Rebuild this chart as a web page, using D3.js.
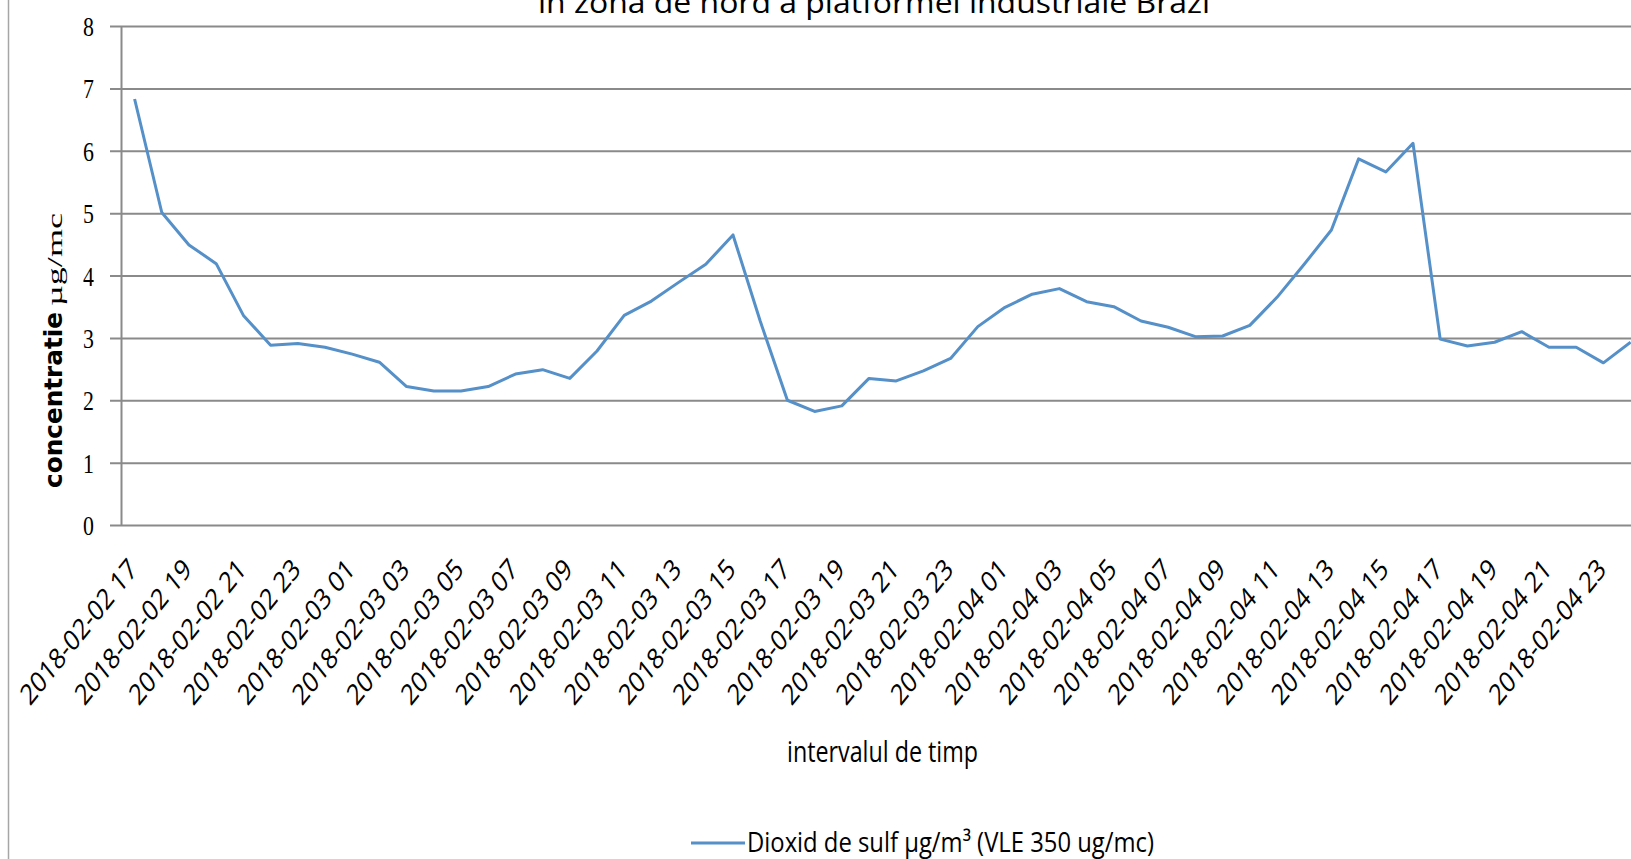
<!DOCTYPE html>
<html>
<head>
<meta charset="utf-8">
<script src="https://cdn.jsdelivr.net/npm/d3@7"></script>
<style>
  body { margin: 0; background: #fff; }
  svg { display: block; }
</style>
</head>
<body>
<div id="chart"></div>
<script>
// hourly categories shown on the x axis
const categories = [
  "2018-02-02 17", "2018-02-02 18", "2018-02-02 19", "2018-02-02 20", "2018-02-02 21", "2018-02-02 22", "2018-02-02 23",
  "2018-02-03 00", "2018-02-03 01", "2018-02-03 02", "2018-02-03 03", "2018-02-03 04", "2018-02-03 05", "2018-02-03 06",
  "2018-02-03 07", "2018-02-03 08", "2018-02-03 09", "2018-02-03 10", "2018-02-03 11", "2018-02-03 12", "2018-02-03 13",
  "2018-02-03 14", "2018-02-03 15", "2018-02-03 16", "2018-02-03 17", "2018-02-03 18", "2018-02-03 19", "2018-02-03 20",
  "2018-02-03 21", "2018-02-03 22", "2018-02-03 23", "2018-02-04 00", "2018-02-04 01", "2018-02-04 02", "2018-02-04 03",
  "2018-02-04 04", "2018-02-04 05", "2018-02-04 06", "2018-02-04 07", "2018-02-04 08", "2018-02-04 09", "2018-02-04 10",
  "2018-02-04 11", "2018-02-04 12", "2018-02-04 13", "2018-02-04 14", "2018-02-04 15", "2018-02-04 16", "2018-02-04 17",
  "2018-02-04 18", "2018-02-04 19", "2018-02-04 20", "2018-02-04 21", "2018-02-04 22", "2018-02-04 23", "2018-02-05 00"
];

// dioxid de sulf, ug/m3
const so2 = [
  6.83, 5.01, 4.49, 4.19, 3.36, 2.88, 2.91,
  2.85, 2.74, 2.61, 2.22, 2.15, 2.15, 2.22,
  2.42, 2.49, 2.35, 2.79, 3.36, 3.59, 3.89,
  4.18, 4.65, 3.27, 2.00, 1.82, 1.91, 2.35,
  2.31, 2.47, 2.67, 3.18, 3.49, 3.70, 3.79,
  3.58, 3.50, 3.27, 3.17, 3.02, 3.03, 3.20,
  3.65, 4.18, 4.73, 5.87, 5.66, 6.12, 2.98,
  2.87, 2.93, 3.10, 2.85, 2.85, 2.60, 2.93
];

const yTicks = [0, 1, 2, 3, 4, 5, 6, 7, 8];
const xTickLabels = categories.filter((d, i) => i % 2 === 0);

const titleText = "în zona de nord a platformei industriale Brazi";
const xTitle = "intervalul de timp";
const yTitleBold = "concentratie";
const yTitleUnit = "µg/mc";
const legendText = "Dioxid de sulf µg/m³ (VLE 350 ug/mc)";

const W = 1631, H = 859;
const plotLeft = 121, plotTop = 26, plotBottom = 525;
const band = 27.2;
const squish = 0.8; // the original picture is narrowed horizontally
const gridColor = "#8a8a8a";
const lineColor = "#5590c8";

const svg = d3.select("#chart").append("svg")
  .attr("width", W)
  .attr("height", H);

svg.append("rect").attr("width", W).attr("height", H).attr("fill", "#fff");

// chart border (only the left edge is inside the picture)
svg.append("line")
  .attr("x1", 8.5).attr("x2", 8.5).attr("y1", 0).attr("y2", H)
  .attr("stroke", "#a6a6a6").attr("stroke-width", 1.5);

var x = d3.scaleBand()
  .domain(categories)
  .range([plotLeft, plotLeft + categories.length * band]);
var xc = function(d) { return x(d) + x.bandwidth() / 2; };

var y = d3.scaleLinear().domain([0, 8]).range([plotBottom, plotTop]);

// y axis + gridlines
var yAxis = svg.append("g")
  .attr("transform", "translate(" + plotLeft + ",0)")
  .call(d3.axisLeft(y).tickValues(yTicks).tickSize(-(W - plotLeft)).tickSizeOuter(0));

yAxis.select(".domain").attr("stroke", gridColor).attr("stroke-width", 2);
yAxis.selectAll(".tick line")
  .attr("x1", -11)
  .attr("stroke", gridColor)
  .attr("stroke-width", 2);
yAxis.selectAll(".tick text")
  .attr("x", 0)
  .attr("dy", "0.34em")
  .attr("transform", "translate(-27,0) scale(0.78,1)")
  .style("font-family", "'Liberation Serif', serif")
  .style("font-size", "28px")
  .attr("fill", "#000");

// x axis labels
var xAxis = svg.append("g")
  .attr("transform", "translate(0," + plotBottom + ")")
  .call(d3.axisBottom(x).tickValues(xTickLabels).tickSize(0).tickSizeOuter(0));

xAxis.select(".domain").remove();
xAxis.selectAll(".tick text")
  .attr("x", 0)
  .attr("y", 0)
  .attr("dy", 0)
  .attr("text-anchor", "end")
  .attr("transform", "translate(4,46) scale(" + squish + ",1) rotate(-45)")
  .style("font-family", "'Open Sans', sans-serif")
  .style("font-size", "29px")
  .attr("fill", "#000");

// data line
var line = d3.line()
  .x(function(d, i) { return xc(categories[i]); })
  .y(function(d) { return y(d); });

svg.append("path")
  .datum(so2)
  .attr("d", line)
  .attr("fill", "none")
  .attr("stroke", lineColor)
  .attr("stroke-width", 3)
  .attr("stroke-linejoin", "round");

// title (top part is cut off in the original)
svg.append("text")
  .attr("x", 538).attr("y", 13)
  .attr("textLength", 672).attr("lengthAdjust", "spacingAndGlyphs")
  .style("font-family", "'Open Sans', sans-serif")
  .style("font-size", "30px")
  .attr("fill", "#000")
  .text(titleText);

// axis titles
svg.append("text")
  .attr("x", 787).attr("y", 762)
  .attr("textLength", 191).attr("lengthAdjust", "spacingAndGlyphs")
  .style("font-family", "'Open Sans', sans-serif")
  .style("font-size", "29px")
  .attr("fill", "#000")
  .text(xTitle);

svg.append("text")
  .attr("transform", "translate(62,488) rotate(-90)")
  .attr("textLength", 176).attr("lengthAdjust", "spacingAndGlyphs")
  .style("font-family", "'DejaVu Sans', sans-serif")
  .style("font-weight", "bold")
  .style("font-size", "24px")
  .attr("fill", "#000")
  .text(yTitleBold);

svg.append("text")
  .attr("transform", "translate(62,306) rotate(-90)")
  .attr("textLength", 93).attr("lengthAdjust", "spacingAndGlyphs")
  .style("font-family", "'Liberation Serif', serif")
  .style("font-size", "22px")
  .attr("fill", "#000")
  .text(yTitleUnit);

// legend
svg.append("line")
  .attr("x1", 691).attr("x2", 745).attr("y1", 843).attr("y2", 843)
  .attr("stroke", lineColor).attr("stroke-width", 3);

svg.append("text")
  .attr("x", 747).attr("y", 852)
  .attr("textLength", 407).attr("lengthAdjust", "spacingAndGlyphs")
  .style("font-family", "'Open Sans', sans-serif")
  .style("font-size", "28px")
  .attr("fill", "#000")
  .text(legendText);
</script>
</body>
</html>
